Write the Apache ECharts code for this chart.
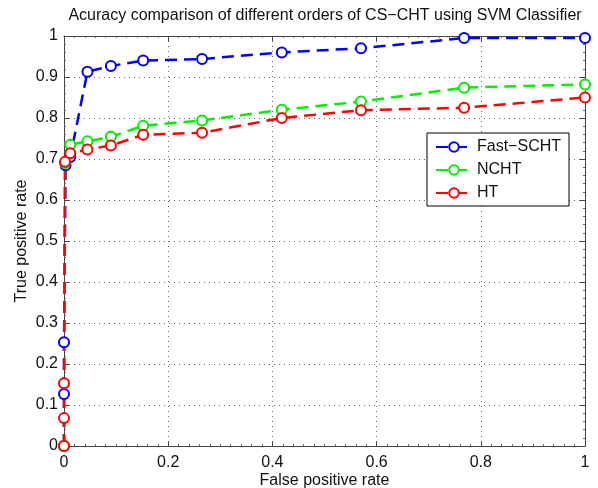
<!DOCTYPE html>
<html>
<head>
<meta charset="utf-8">
<script src="https://cdn.jsdelivr.net/npm/echarts@6/dist/echarts.min.js"></script>
<style>
  html, body { margin: 0; padding: 0; background: #fff; }
  #chart { width: 598px; height: 488px; }
</style>
</head>
<body>
<div id="chart"></div>
<script>
// ROC points: [false positive rate, true positive rate]
var fastSchtPoints = [[0, 0], [0, 0.127], [0, 0.253], [0.003, 0.685], [0.012, 0.705], [0.045, 0.913],
    [0.09, 0.927], [0.152, 0.94], [0.265, 0.944], [0.418, 0.96], [0.57, 0.97], [0.768, 0.995], [1, 0.995]];
var nchtPoints = [[0, 0], [0.002, 0.69], [0.012, 0.735], [0.045, 0.743], [0.09, 0.754], [0.152, 0.781],
    [0.265, 0.794], [0.418, 0.82], [0.57, 0.84], [0.768, 0.874], [1, 0.882]];
var htPoints = [[0, 0], [0, 0.068], [0, 0.153], [0.002, 0.693], [0.012, 0.714], [0.045, 0.723],
    [0.09, 0.733], [0.152, 0.759], [0.265, 0.764], [0.418, 0.8], [0.57, 0.819], [0.768, 0.825], [1, 0.85]];

var seriesNames = ['Fast\u2212SCHT', 'NCHT', 'HT'];
var seriesColors = ['#0000ff', '#00ee00', '#ff0000'];

var chart = echarts.init(document.getElementById('chart'));

var font = 'Liberation Sans, Arial, sans-serif';

function makeSeries(name, data, color) {
    return {
        name: name,
        type: 'line',
        data: data,
        symbol: 'emptyCircle',
        symbolSize: 10,
        showAllSymbol: true,
        itemStyle: { color: color, borderColor: color, borderWidth: 2.5 },
        lineStyle: { color: color, width: 2.5, type: [12, 7] },
        animation: false
    };
}

var gridAxis = {
    min: 0,
    max: 1,
    axisLine: { show: true, onZero: false, lineStyle: { color: '#444', width: 1 } },
    axisTick: { show: true, inside: true, length: 5, lineStyle: { color: '#444' } },
    minorTick: { show: true, splitNumber: 5, length: 2, lineStyle: { color: '#666' } },
    splitLine: { show: false }
};

var options = {
    backgroundColor: '#fff',
    title: {
        text: 'Acuracy comparison of different orders of CS\u2212CHT using SVM Classifier',
        left: 320,
        top: 3,
        textAlign: 'center',
        textStyle: { fontFamily: font, fontSize: 16, fontWeight: 'normal', color: '#111' }
    },
    legend: {
        data: seriesNames,
        orient: 'vertical',
        left: 427,
        top: 133,
        backgroundColor: '#fff',
        borderColor: '#000',
        borderWidth: 1,
        padding: [6, 8, 5, 8],
        itemWidth: 36,
        itemHeight: 12,
        itemGap: 7,
        textStyle: { fontFamily: font, fontSize: 16, color: '#111' }
    },
    grid: { left: 64, right: 13, top: 36, bottom: 42, outerBoundsMode: 'none', containLabel: false },
    xAxis: [
        Object.assign({}, gridAxis, {
            type: 'value',
            interval: 0.2,
            position: 'bottom',
            name: 'False positive rate',
            nameLocation: 'middle',
            nameGap: 27,
            nameMoveOverlap: false,
            nameTextStyle: { fontFamily: font, fontSize: 16, color: '#111' },
            axisLabel: { fontFamily: font, fontSize: 16, color: '#111', margin: 9 },
            splitLine: { show: true, lineStyle: { color: '#666', width: 1, type: [1, 4] } },
            minorTick: { show: true, splitNumber: 10, length: 2, lineStyle: { color: '#666' } }
        }),
        Object.assign({}, gridAxis, {
            type: 'value',
            interval: 0.2,
            position: 'top',
            axisLabel: { show: false },
            minorTick: { show: true, splitNumber: 10, length: 2, lineStyle: { color: '#666' } }
        })
    ],
    yAxis: [
        Object.assign({}, gridAxis, {
            type: 'value',
            interval: 0.1,
            position: 'left',
            name: 'True positive rate',
            nameLocation: 'middle',
            nameGap: 34,
            nameMoveOverlap: false,
            nameTextStyle: { fontFamily: font, fontSize: 16, color: '#111' },
            axisLabel: { fontFamily: font, fontSize: 16, color: '#111', margin: 6 },
            splitLine: { show: true, lineStyle: { color: '#666', width: 1, type: [1, 4] } }
        }),
        Object.assign({}, gridAxis, {
            type: 'value',
            interval: 0.1,
            position: 'right',
            axisLabel: { show: false }
        })
    ],
    series: [
        makeSeries(seriesNames[0], fastSchtPoints, seriesColors[0]),
        makeSeries(seriesNames[1], nchtPoints, seriesColors[1]),
        makeSeries(seriesNames[2], htPoints, seriesColors[2])
    ]
};

chart.setOption(options);
</script>
</body>
</html>
